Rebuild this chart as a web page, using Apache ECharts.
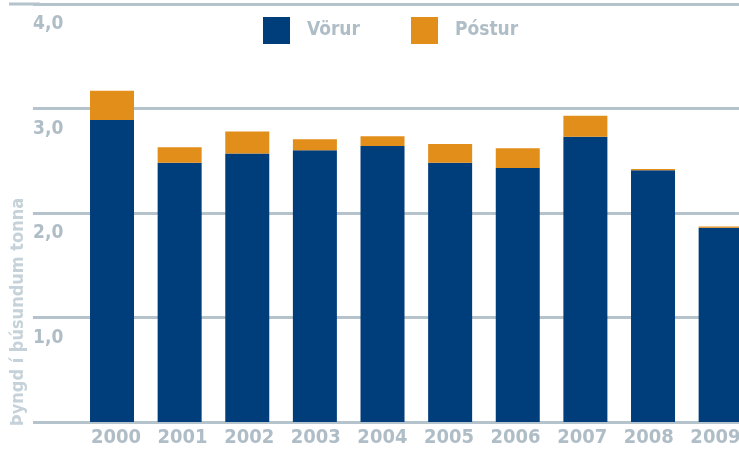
<!DOCTYPE html>
<html><head><meta charset="utf-8">
<script src="https://cdn.jsdelivr.net/npm/echarts@6/dist/echarts.min.js"></script>
<style>html,body{margin:0;padding:0;background:#fff}#c{width:739px;height:449px}</style>
</head><body><div id="c"></div>
<script>
const years = ['2000','2001','2002','2003','2004','2005','2006','2007','2008','2009'];
const vorur = [2.89, 2.48, 2.57, 2.60, 2.64, 2.48, 2.43, 2.73, 2.41, 1.86];
const postur = [0.28, 0.15, 0.21, 0.105, 0.095, 0.18, 0.19, 0.20, 0.012, 0.012];
const yTicks = [0, 1, 2, 3, 4];
const seriesNames = ['Vörur', 'Póstur'];
const yTitle = 'Þyngd í þúsundum tonna';

const gridColor = '#b5c3cc';
const textColor = '#afbdc7';
const cond = '"DejaVu Sans Condensed", "DejaVu Sans"';
const chart = echarts.init(document.getElementById('c'));
chart.setOption({
  animation: false,
  legend: {
    left: 263, top: 17, padding: 0, itemWidth: 27, itemHeight: 27, itemGap: 51, icon: 'rect',
    data: seriesNames,
    textStyle: { fontFamily: cond, fontWeight: 'bold', fontSize: 19, color: textColor, padding: [0,0,0,12] }
  },
  grid: [
    { left: 33, right: 0, top: 4, bottom: 27, outerBoundsMode: 'none' },
    { left: 78.2, width: 676.25, top: 4, bottom: 27, outerBoundsMode: 'none' },
    { left: 82.7, width: 666, top: 4, bottom: 27, outerBoundsMode: 'none' }
  ],
  xAxis: [
    { gridIndex: 0, type: 'value', show: false },
    { gridIndex: 1, type: 'category', data: years,
      axisLine: { show: false }, axisTick: { show: false }, axisLabel: { show: false } },
    { gridIndex: 2, type: 'category', data: years,
      axisLine: { show: false }, axisTick: { show: false },
      axisLabel: { margin: 6, fontFamily: cond, fontWeight: 'bold', fontSize: 20, color: textColor } }
  ],
  yAxis: [
    { gridIndex: 0, type: 'value', min: yTicks[0], max: yTicks[yTicks.length-1], interval: 1,
      axisLine: { show: false }, axisTick: { show: false },
      splitLine: { show: true, lineStyle: { color: gridColor, width: 3 } },
      axisLabel: { inside: true, margin: 0, align: 'left', verticalAlign: 'top', padding: [11,0,0,0],
        fontFamily: cond, fontWeight: 'bold', fontSize: 19, color: textColor,
        formatter: v => v === 0 ? '' : v.toFixed(1).replace('.', ',') } },
    { gridIndex: 1, type: 'value', min: yTicks[0], max: yTicks[yTicks.length-1], interval: 1, show: false, splitLine: { show: false } },
    { gridIndex: 2, type: 'value', min: yTicks[0], max: yTicks[yTicks.length-1], interval: 1, show: false, splitLine: { show: false } }
  ],
  graphic: [
    { type: 'line', shape: { x1: 9, y1: 4, x2: 40, y2: 4 }, style: { stroke: gridColor, lineWidth: 3 }, z: 0 },
    { type: 'text', x: 18, y: 312, rotation: Math.PI / 2,
      style: { text: yTitle, fontFamily: cond, fontWeight: 'bold', fontSize: 18, fill: '#c6d2da', align: 'center', verticalAlign: 'middle' } }
  ],
  series: [
    { name: seriesNames[0], type: 'bar', stack: 't', xAxisIndex: 1, yAxisIndex: 1, data: vorur, barWidth: 44, itemStyle: { color: '#003d7b' } },
    { name: seriesNames[1], type: 'bar', stack: 't', xAxisIndex: 1, yAxisIndex: 1, data: postur, barWidth: 44, itemStyle: { color: '#e28e1a' } }
  ]
});
</script></body></html>
